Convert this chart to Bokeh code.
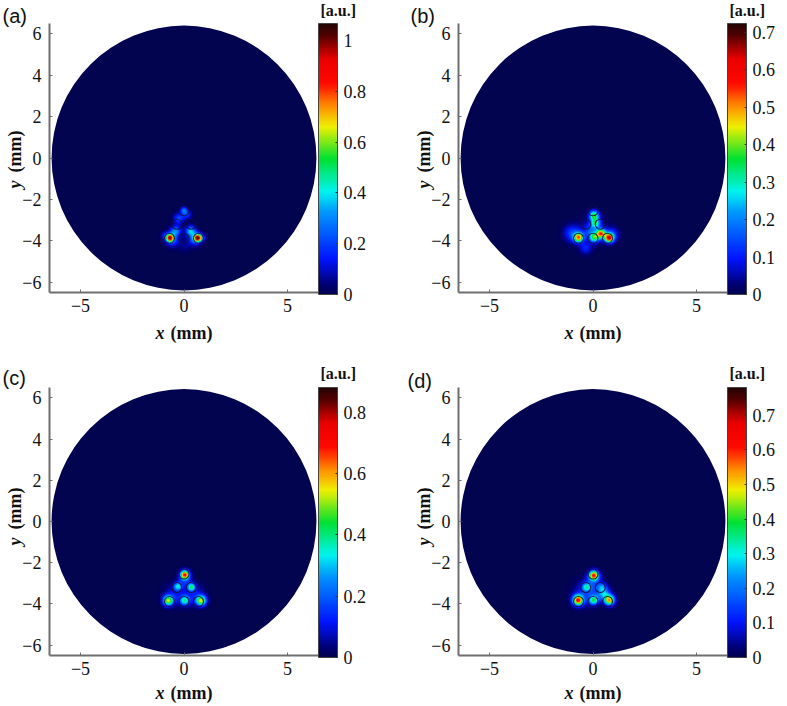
import numpy as np
from bokeh.plotting import figure
from bokeh.layouts import column, row
from bokeh.models import LinearColorMapper, ColorBar, FixedTicker, Label
from bokeh.embed import file_html
from bokeh.resources import INLINE

panel_names = ["(a)", "(b)", "(c)", "(d)"]
vmax = [1.067, 0.724, 0.88, 0.78]
cbar_ticks = [
    [0, 0.2, 0.4, 0.6, 0.8, 1],
    [0, 0.1, 0.2, 0.3, 0.4, 0.5, 0.6, 0.7],
    [0, 0.2, 0.4, 0.6, 0.8],
    [0, 0.1, 0.2, 0.3, 0.4, 0.5, 0.6, 0.7],
]
ring_x = [0.0, -0.35, 0.35, -0.7, 0.0, 0.7]
ring_y = [-2.55, -3.2, -3.2, -3.88, -3.88, -3.88]

# spots: x (mm), y (mm), amplitude (a.u.), width (mm)
a_x = [-0.70, 0.64, 0.30, -0.43, -0.03, -0.27, 0.12, 0.45, -0.55, 0.0, 0.85, -0.95]
a_y = [-3.88, -3.88, -3.55, -3.55, -2.55, -2.95, -2.75, -3.95, -4.0, -4.3, -3.85, -3.75]
a_a = [0.88, 0.90, 0.36, 0.30, 0.24, 0.22, 0.18, 0.20, 0.18, 0.05, 0.14, 0.12]
a_s = [0.13, 0.13, 0.17, 0.18, 0.12, 0.17, 0.15, 0.22, 0.22, 0.2, 0.13, 0.13]

b_x = [-0.71, 0.05, 0.37, 0.75, 0.03, 0.10, -1.02, -0.38, 0.9, -0.15, 0.0]
b_y = [-3.86, -3.86, -3.67, -3.88, -2.80, -3.17, -3.66, -4.37, -3.7, -3.55, -3.5]
b_a = [0.48, 0.32, 0.50, 0.58, 0.36, 0.28, 0.14, 0.10, 0.12, 0.10, 0.06]
b_s = [0.16, 0.16, 0.15, 0.15, 0.16, 0.16, 0.28, 0.2, 0.22, 0.22, 0.45]

c_x = [0.02, -0.32, 0.34, -0.78, 0.02, 0.80, -0.45, 0.45, 0.0]
c_y = [-2.60, -3.16, -3.19, -3.85, -3.85, -3.85, -3.56, -3.56, -2.91]
c_a = [0.70, 0.30, 0.36, 0.50, 0.34, 0.52, 0.10, 0.10, 0.10]
c_s = [0.15, 0.13, 0.13, 0.17, 0.16, 0.17, 0.35, 0.35, 0.22]

d_x = [0.02, -0.34, 0.42, 0.50, -0.74, 0.02, 0.77, -0.45, 0.0]
d_y = [-2.63, -3.19, -3.19, -3.51, -3.83, -3.83, -3.83, -3.56, -3.11]
d_a = [0.60, 0.22, 0.14, 0.24, 0.60, 0.34, 0.52, 0.10, 0.12]
d_s = [0.16, 0.14, 0.14, 0.21, 0.17, 0.16, 0.17, 0.38, 0.33]

spots = [(a_x, a_y, a_a, a_s), (b_x, b_y, b_a, b_s), (c_x, c_y, c_a, c_s), (d_x, d_y, d_a, d_s)]

stops = [0, .03, .13, .30, .38, .50, .62, .69, .78, .87, .96, 1]
cols = [(3, 4, 79), (0, 0, 110), (0, 20, 255), (0, 150, 255), (0, 245, 240), (0, 225, 50),
        (240, 240, 0), (255, 150, 0), (255, 10, 0), (235, 0, 0), (80, 0, 0), (35, 5, 5)]
t = np.linspace(0, 1, 256)
palette = ["#%02x%02x%02x" % tuple(int(np.interp(v, stops, [c[i] for c in cols])) for i in range(3)) for v in t]

SERIF = "Liberation Serif"
INK = "#111111"
gx = np.linspace(-2, 2, 321)
gy = np.linspace(-5.5, -1.5, 321)
XX, YY = np.meshgrid(gx, gy)


def make(i, width, height, top, frame_h):
    bottom = height - top - frame_h
    p = figure(width=width, height=height, x_range=(-6.5, 6.5), y_range=(-6.5, 6.5),
               output_backend="svg", toolbar_location=None,
               min_border_left=49, min_border_top=top,
               min_border_right=width - 49 - 269, min_border_bottom=bottom)
    p.grid.visible = False
    p.outline_line_color = None
    p.background_fill_color = "white"
    p.circle(x=[0], y=[0], radius=[6.4], fill_color=palette[0], line_color=None)
    xs, ys, amps, sig = spots[i]
    field = np.zeros_like(XX)
    for x0, y0, am, s in zip(xs, ys, amps, sig):
        field += am * np.exp(-((XX - x0) ** 2 + (YY - y0) ** 2) / (2 * s ** 2))
    mapper = LinearColorMapper(palette=palette, low=0, high=vmax[i])
    p.image(image=[field], x=-2, y=-5.5, dw=4, dh=4, color_mapper=mapper)
    p.scatter(ring_x, ring_y, size=10, fill_color=None, line_color="#180c40", line_alpha=0.85, line_width=1.1)

    for ax in (p.xaxis[0], p.yaxis[0]):
        ax.axis_line_color = "#6e6e6e"
        ax.axis_line_width = 2
        ax.major_tick_line_color = "#6e6e6e"
        ax.major_tick_in = 3
        ax.major_tick_out = 0
        ax.minor_tick_line_color = None
        ax.major_label_text_font = SERIF
        ax.major_label_text_font_size = "18px"
        ax.major_label_text_color = INK
    p.xaxis[0].ticker = FixedTicker(ticks=[-5, 0, 5])
    p.xaxis[0].major_label_overrides = {-5: "\u22125", 0: "0", 5: "5"}
    p.xaxis[0].major_label_standoff = 6
    p.yaxis[0].ticker = FixedTicker(ticks=[-6, -4, -2, 0, 2, 4, 6])
    p.yaxis[0].major_label_overrides = {-6: "\u22126", -4: "\u22124", -2: "\u22122", 0: "0", 2: "2", 4: "4", 6: "6"}
    p.yaxis[0].major_label_standoff = 8

    cb = ColorBar(color_mapper=mapper, ticker=FixedTicker(ticks=cbar_ticks[i]), width=19, height=frame_h + 2,
                  padding=0, margin=10, location="top_left", bar_line_color="#444444",
                  major_tick_line_color="#333333", major_tick_in=2, major_tick_out=0,
                  minor_tick_line_color=None, label_standoff=6,
                  major_label_text_font=SERIF, major_label_text_font_size="18px",
                  major_label_text_color=INK,
                  major_label_overrides={0: "0", 1: "1"})
    p.add_layout(cb, "right")
    return p


pa = make(0, 409, 364, 23, 269)
pb = make(1, 378, 364, 23, 269)
pc = make(2, 409, 342, 23, 268)
pd = make(3, 378, 342, 23, 268)

# transparent sheet for the labels that lie outside the plot frames
sheet = figure(width=787, height=706, x_range=(0, 787), y_range=(706, 0), output_backend="svg",
               toolbar_location=None, x_axis_location=None, y_axis_location=None,
               min_border=0, margin=(-706, 0, 0, 0), background_fill_alpha=0, border_fill_alpha=0,
               outline_line_color=None)
sheet.grid.visible = False


def lab(x, y, text, **kw):
    base = dict(text_font=SERIF, text_color=INK, text_font_size="18px", text_baseline="middle")
    base.update(kw)
    sheet.add_layout(Label(x=x, y=y, text=text, **base))


for name, dx, xlab_y, ylab_y, au_y, nm_y, nm_x in [
    (panel_names[0], 0, 332, 188, 10, 15, 2),
    (panel_names[1], 409, 332, 188, 10, 15, 410),
    (panel_names[2], 0, 692, 545, 373, 377, 2),
    (panel_names[3], 409, 692, 545, 373, 380, 407),
]:
    lab(155 + dx, xlab_y, "x", text_font_style="bold italic")
    lab(170 + dx, xlab_y, "(mm)", text_font_style="bold")
    lab(14 + dx, ylab_y, "y", angle=np.pi / 2, text_font_style="bold italic")
    lab(14 + dx, ylab_y - 16, "(mm)", angle=np.pi / 2, text_font_style="bold")
    lab(320 + dx, au_y, "[a.u.]", text_font_size="16px", text_font_style="bold")
    lab(nm_x, nm_y, name, text_font="Liberation Sans", text_font_size="20px")

layout = column(row(pa, pb, spacing=0), row(pc, pd, spacing=0), sheet, spacing=0)
open("out.html", "w").write(file_html(layout, INLINE))
